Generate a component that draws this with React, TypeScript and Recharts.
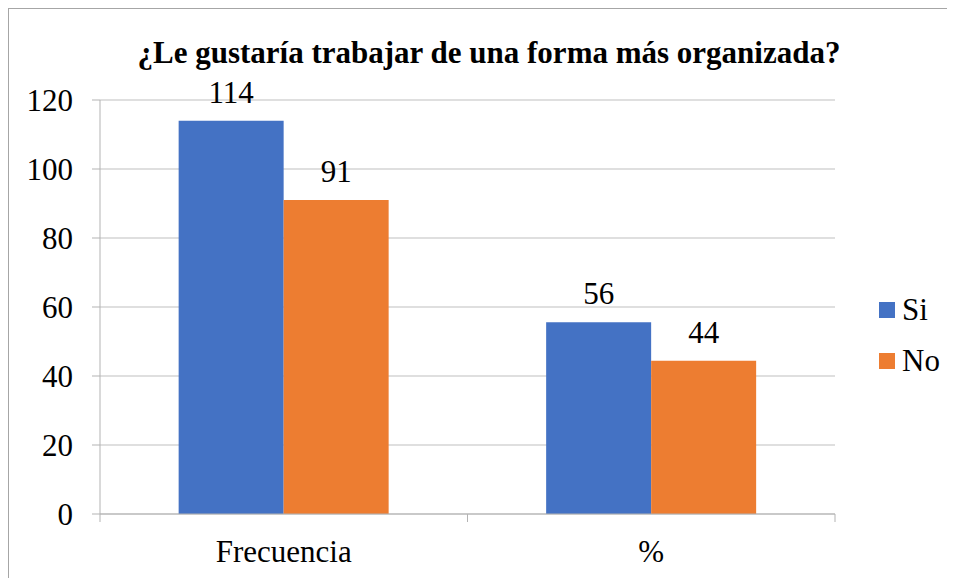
import { BarChart, Bar, XAxis, YAxis, CartesianGrid, LabelList } from "recharts";

const categories = ["Frecuencia", "%"];
const siValues = [114, 55.6];
const noValues = [91, 44.4];
const yTicks = [0, 20, 40, 60, 80, 100, 120];

const series = [
  { key: "si", name: "Si", color: "#4472C4" },
  { key: "no", name: "No", color: "#ED7D31" },
];

const data = categories.map((name, i) => ({
  name,
  si: siValues[i],
  no: noValues[i],
}));

const FONT = '"Liberation Serif", Tinos, "Times New Roman", serif';
const AXIS_GRAY = "#b3b3b3";
const X_TICK_MARGIN = 26;

// category label plus Excel-style tick marks at the band edges
function CategoryTick(props: any) {
  const { x, y, payload } = props;
  const axisY = y - X_TICK_MARGIN;
  const half = payload.offset ?? 0;
  return (
    <g>
      <line x1={x - half} x2={x - half} y1={axisY} y2={axisY + 8} stroke={AXIS_GRAY} />
      <line x1={x + half} x2={x + half} y1={axisY} y2={axisY + 8} stroke={AXIS_GRAY} />
      <text
        x={x}
        y={y}
        dy="0.71em"
        textAnchor="middle"
        fontSize={31}
        fill="#000"
        style={{ fontFamily: FONT }}
      >
        {payload.value}
      </text>
    </g>
  );
}

export default function App() {
  return (
    <div
      style={{
        position: "relative",
        width: 965,
        height: 580,
        border: "1px solid #a6a6a6",
        background: "#fff",
        fontFamily: FONT,
      }}
    >
      <style>{`html, body, svg, text, tspan { font-family: "Liberation Serif", Tinos, "Times New Roman", serif; }`}</style>
      <div
        style={{
          position: "absolute",
          left: 0,
          width: 960,
          top: 26,
          textAlign: "center",
          fontSize: 31,
          fontWeight: "bold",
          fontFamily: FONT,
          color: "#000",
        }}
      >
        ¿Le gustaría trabajar de una forma más organizada?
      </div>

      <BarChart
        width={956}
        height={571}
        data={data}
        margin={{ top: 91, right: 130, bottom: 0, left: 0 }}
        barCategoryGap="21.4%"
        barGap={0}
      >
        <CartesianGrid vertical={false} stroke="#bfbfbf" />
        <XAxis
          dataKey="name"
          height={66}
          axisLine={{ stroke: AXIS_GRAY }}
          tickLine={false}
          tickSize={0}
          tickMargin={X_TICK_MARGIN}
          tick={<CategoryTick />}
        />
        <YAxis
          width={91}
          domain={[0, 120]}
          ticks={yTicks}
          axisLine={{ stroke: AXIS_GRAY }}
          tickLine={{ stroke: AXIS_GRAY }}
          tickSize={8}
          tickMargin={19}
          tick={{ fontSize: 31, fill: "#000", style: { fontFamily: FONT } }}
        />
        {series.map((s) => (
          <Bar
            key={s.key}
            dataKey={s.key}
            name={s.name}
            fill={s.color}
            isAnimationActive={false}
          >
            <LabelList
              dataKey={s.key}
              position="top"
              offset={18}
              formatter={(v: any) => Math.round(Number(v))}
              fontSize={31}
              fill="#000"
              style={{ fontFamily: FONT }}
            />
          </Bar>
        ))}
      </BarChart>

      <div style={{ position: "absolute", left: 870, top: 275 }}>
        {series.map((s) => (
          <div
            key={s.key}
            style={{
              display: "flex",
              alignItems: "center",
              height: 51,
              fontSize: 31,
              fontFamily: FONT,
              color: "#000",
            }}
          >
            <span
              style={{
                display: "inline-block",
                width: 16,
                height: 16,
                background: s.color,
                marginRight: 7,
              }}
            />
            {s.name}
          </div>
        ))}
      </div>
    </div>
  );
}
